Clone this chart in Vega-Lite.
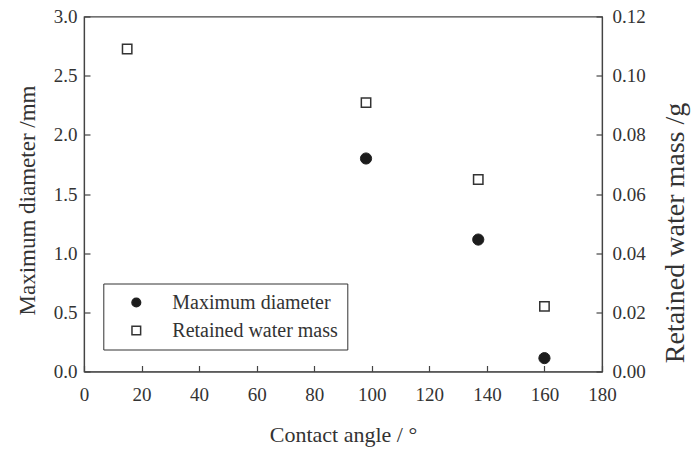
{
  "$schema": "https://vega.github.io/schema/vega-lite/v6.json",
  "width": 518,
  "height": 355,
  "autosize": "none",
  "padding": {"left": 84, "top": 16.5, "right": 96, "bottom": 77.5},
  "background": "white",
  "data": {
    "values": [
      {"angle": 98, "quantity": "Maximum diameter", "value": 1.80},
      {"angle": 137, "quantity": "Maximum diameter", "value": 1.115},
      {"angle": 160, "quantity": "Maximum diameter", "value": 0.113},
      {"angle": 15, "quantity": "Retained water mass", "value": 0.109},
      {"angle": 98, "quantity": "Retained water mass", "value": 0.0909},
      {"angle": 137, "quantity": "Retained water mass", "value": 0.0649},
      {"angle": 160, "quantity": "Retained water mass", "value": 0.022}
    ]
  },
  "encoding": {
    "x": {
      "field": "angle",
      "type": "quantitative",
      "scale": {"domain": [0, 180], "nice": false},
      "axis": {
        "title": "Contact angle / °",
        "values": [0, 20, 40, 60, 80, 100, 120, 140, 160, 180],
        "labelPadding": 20,
        "titleBaseline": "alphabetic",
        "titleY": 69.8
      }
    },
    "shape": {
      "field": "quantity",
      "type": "nominal",
      "scale": {"domain": ["Maximum diameter", "Retained water mass"], "range": ["circle", "square"]},
      "legend": {"title": null}
    },
    "fill": {
      "field": "quantity",
      "type": "nominal",
      "scale": {"domain": ["Maximum diameter", "Retained water mass"], "range": ["#1c1c1c", "white"]},
      "legend": {"title": null}
    },
    "stroke": {
      "field": "quantity",
      "type": "nominal",
      "scale": {"domain": ["Maximum diameter", "Retained water mass"], "range": ["#222222", "#333333"]},
      "legend": {"title": null}
    }
  },
  "layer": [
    {
      "transform": [{"filter": "datum.quantity === 'Maximum diameter'"}],
      "mark": {"type": "point", "filled": true, "size": 125, "strokeWidth": 1, "opacity": 1},
      "encoding": {
        "y": {
          "field": "value",
          "type": "quantitative",
          "scale": {"domain": [0, 3], "nice": false},
          "axis": {
            "orient": "left",
            "title": "Maximum diameter /mm",
            "values": [0, 0.5, 1, 1.5, 2, 2.5, 3],
            "format": ".1f",
            "labelPadding": 13,
            "titleBaseline": "alphabetic",
            "titleX": -50,
            "titleY": 183.5,
            "titleAngle": 270,
            "titleFontSize": 23
          }
        }
      }
    },
    {
      "transform": [{"filter": "datum.quantity === 'Retained water mass'"}],
      "mark": {"type": "point", "filled": true, "size": 88, "strokeWidth": 1.5, "opacity": 1},
      "encoding": {
        "y": {
          "field": "value",
          "type": "quantitative",
          "scale": {"domain": [0, 0.12], "nice": false},
          "axis": {
            "orient": "right",
            "title": "Retained water mass /g",
            "values": [0, 0.02, 0.04, 0.06, 0.08, 0.1, 0.12],
            "format": ".2f",
            "labelPadding": 16,
            "titleBaseline": "alphabetic",
            "titleX": 81,
            "titleY": 216,
            "titleAngle": 270,
            "titleFontSize": 28
          }
        }
      }
    }
  ],
  "resolve": {"scale": {"y": "independent"}, "axis": {"y": "independent"}},
  "config": {
    "font": "Liberation Serif, serif",
    "view": {"stroke": "#444", "strokeWidth": 1.2},
    "axis": {
      "grid": false,
      "domainColor": "#444",
      "domainWidth": 1.2,
      "tickColor": "#444",
      "tickWidth": 1.2,
      "tickSize": -6,
      "labelColor": "#333",
      "titleColor": "#333",
      "labelFont": "Liberation Serif, serif",
      "titleFont": "Liberation Serif, serif",
      "labelFontSize": 19,
      "titleFontSize": 22,
      "titleFontWeight": "normal",
      "labelOverlap": false,
      "labelBound": false,
      "labelFlush": false
    },
    "legend": {
      "orient": "none",
      "legendX": 19.3,
      "legendY": 267,
      "strokeColor": "#333",
      "fillColor": "white",
      "padding": 9,
      "symbolOffset": 14,
      "labelOffset": 26,
      "rowPadding": 8,
      "labelFont": "Liberation Serif, serif",
      "labelFontSize": 20,
      "labelColor": "#333",
      "symbolSize": 75,
      "symbolStrokeWidth": 1.5,
      "labelLimit": 300
    }
  }
}
